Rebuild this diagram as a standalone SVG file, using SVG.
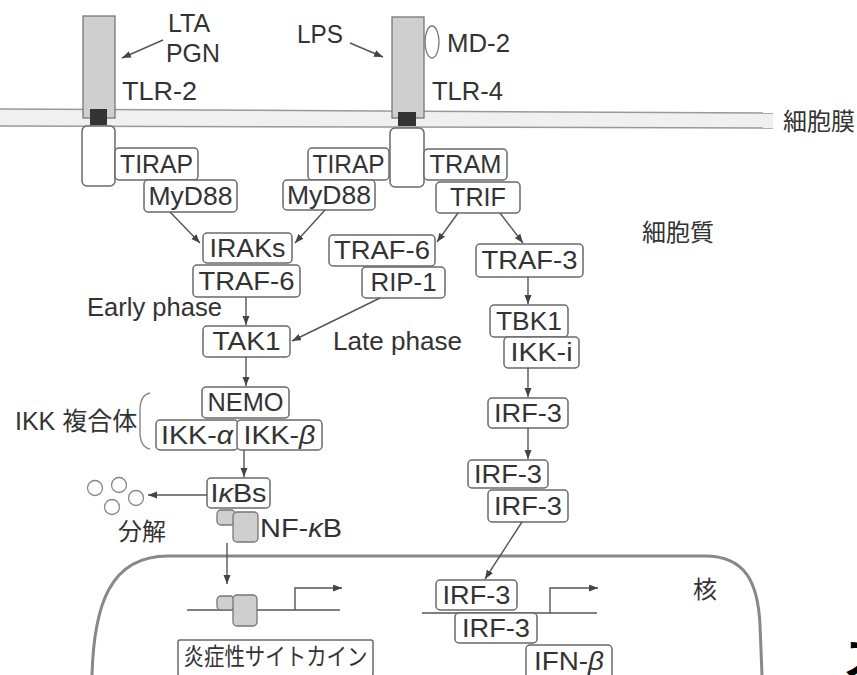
<svg xmlns="http://www.w3.org/2000/svg" width="857" height="675" viewBox="0 0 857 675">
<style>
.bx{fill:#fff;stroke:#6a6a6a;stroke-width:1.5}
.t{font-family:"Liberation Sans",Arial,sans-serif;font-size:25px;fill:#333}
.c{text-anchor:middle}
.j{font-family:"Noto Sans CJK JP",sans-serif;font-size:24px;fill:#333}
.ln{fill:none;stroke:#555;stroke-width:1.4}
.gr{fill:#cfcfcf;stroke:#777;stroke-width:1.3}
.i{font-style:italic}
</style>
<defs>
<marker id="ah" markerWidth="10" markerHeight="8" refX="9" refY="3.5" orient="auto" markerUnits="userSpaceOnUse">
<path d="M0,0 L9,3.5 L0,7 z" fill="#444"/>
</marker>
</defs>
<rect width="857" height="675" fill="#fff"/>

<g id="membrane">
<path d="M0,109 L773,113 L773,128 L0,126 z" fill="#f0f0f0"/>
<line x1="0" y1="109" x2="773" y2="113" stroke="#999" stroke-width="1.5"/>
<line x1="0" y1="126" x2="773" y2="128" stroke="#999" stroke-width="1.5"/>
<text class="j" x="783" y="130" font-size="25">細胞膜</text>
</g>

<g id="nucleus">
<path d="M92,675 C94,605 110,556 168,556 L705,556 C745,556 758,582 760,625 L762,675" fill="none" stroke="#888" stroke-width="3"/>
<text class="j" x="693" y="598" font-size="25">核</text>
</g>

<text class="j" x="642" y="241" font-size="25">細胞質</text>

<g id="tlr2">
<rect x="83" y="16" width="32" height="102" class="gr"/>
<rect x="82" y="126" width="33" height="60" rx="5" class="bx"/>
<rect x="90" y="109" width="17" height="16" fill="#333"/>
<text class="t" x="122" y="100" textLength="75" lengthAdjust="spacingAndGlyphs">TLR-2</text>
</g>
<g id="lta-pgn">
<text class="t" x="168" y="32">LTA</text>
<text class="t" x="166" y="62" textLength="54" lengthAdjust="spacingAndGlyphs">PGN</text>
</g>
<g id="tlr4">
<rect x="392" y="17" width="32" height="101" class="gr"/>
<rect x="390" y="128" width="34" height="59" rx="5" class="bx"/>
<rect x="398" y="112" width="18" height="14" fill="#333"/>
<text class="t" x="432" y="100" textLength="71" lengthAdjust="spacingAndGlyphs">TLR-4</text>
</g>
<g id="lps"><text class="t" x="297" y="43" textLength="46" lengthAdjust="spacingAndGlyphs">LPS</text></g>
<g id="md2">
<ellipse cx="432" cy="42" rx="7" ry="16" fill="#fff" stroke="#777" stroke-width="1.3"/>
<text class="t" x="447" y="52" textLength="63" lengthAdjust="spacingAndGlyphs">MD-2</text>
</g>

<g id="tirap-l"><rect class="bx" x="115" y="148" width="83" height="32" rx="4"/><text class="t c" x="156.5" y="173" textLength="73" lengthAdjust="spacingAndGlyphs">TIRAP</text></g>
<g id="myd88-l"><rect class="bx" x="144" y="180" width="93" height="32" rx="4"/><text class="t c" x="190.5" y="205" textLength="84" lengthAdjust="spacingAndGlyphs">MyD88</text></g>
<g id="tirap-m"><rect class="bx" x="308" y="148" width="81" height="32" rx="4"/><text class="t c" x="348.5" y="173" textLength="72" lengthAdjust="spacingAndGlyphs">TIRAP</text></g>
<g id="myd88-m"><rect class="bx" x="283" y="180" width="92" height="30" rx="4"/><text class="t c" x="329" y="204" textLength="84" lengthAdjust="spacingAndGlyphs">MyD88</text></g>
<g id="tram"><rect class="bx" x="424" y="149" width="83" height="31" rx="4"/><text class="t c" x="465.5" y="173" textLength="72" lengthAdjust="spacingAndGlyphs">TRAM</text></g>
<g id="trif"><rect class="bx" x="436" y="182" width="84" height="31" rx="4"/><text class="t c" x="478" y="206" textLength="56" lengthAdjust="spacingAndGlyphs">TRIF</text></g>
<g id="iraks"><rect class="bx" x="203" y="233" width="89" height="30" rx="4"/><text class="t c" x="247.5" y="257" textLength="76" lengthAdjust="spacingAndGlyphs">IRAKs</text></g>
<g id="traf6-l"><rect class="bx" x="193" y="265" width="107" height="32" rx="4"/><text class="t c" x="246.5" y="290" textLength="96" lengthAdjust="spacingAndGlyphs">TRAF-6</text></g>
<g id="traf6-m"><rect class="bx" x="329" y="235" width="106" height="31" rx="4"/><text class="t c" x="382" y="259" textLength="96" lengthAdjust="spacingAndGlyphs">TRAF-6</text></g>
<g id="rip1"><rect class="bx" x="362" y="267" width="83" height="31" rx="4"/><text class="t c" x="403.5" y="291" textLength="66" lengthAdjust="spacingAndGlyphs">RIP-1</text></g>
<g id="traf3"><rect class="bx" x="476" y="244" width="107" height="33" rx="4"/><text class="t c" x="529.5" y="269" textLength="96" lengthAdjust="spacingAndGlyphs">TRAF-3</text></g>
<g id="tak1"><rect class="bx" x="203" y="326" width="87" height="31" rx="4"/><text class="t c" x="246.5" y="350" textLength="68" lengthAdjust="spacingAndGlyphs">TAK1</text></g>
<g id="tbk1"><rect class="bx" x="490" y="305" width="78" height="32" rx="4"/><text class="t c" x="529" y="330" textLength="66" lengthAdjust="spacingAndGlyphs">TBK1</text></g>
<g id="ikki"><rect class="bx" x="504" y="337" width="75" height="31" rx="4"/><text class="t c" x="541.5" y="361" textLength="62" lengthAdjust="spacingAndGlyphs">IKK-i</text></g>
<g id="nemo"><rect class="bx" x="202" y="387" width="87" height="31" rx="4"/><text class="t c" x="245.5" y="411" textLength="76" lengthAdjust="spacingAndGlyphs">NEMO</text></g>
<g id="ikka"><rect class="bx" x="156" y="420" width="82" height="30" rx="4"/><text class="t c" x="197" y="444" textLength="72" lengthAdjust="spacingAndGlyphs">IKK-<tspan class="i">α</tspan></text></g>
<g id="ikkb"><rect class="bx" x="237" y="420" width="85" height="30" rx="4"/><text class="t c" x="279.5" y="444" textLength="72" lengthAdjust="spacingAndGlyphs">IKK-<tspan class="i">β</tspan></text></g>
<g id="ikk-complex">
<path d="M150,393 Q140,395 140,410 L140,432 Q140,447 150,449" fill="none" stroke="#888" stroke-width="1.4"/>
<text class="t" x="15" y="430" font-size="23">IKK <tspan font-family="Noto Sans CJK JP,sans-serif">複合体</tspan></text>
</g>
<g id="ikbs"><rect class="bx" x="207" y="478" width="63" height="30" rx="4"/><text class="t c" x="238.5" y="502" textLength="56" lengthAdjust="spacingAndGlyphs">I<tspan class="i">κ</tspan>Bs</text></g>
<g id="nfkb">
<rect x="217" y="510" width="18" height="15" rx="4" class="gr"/>
<rect x="233" y="512" width="25" height="30" rx="4" class="gr"/>
<text class="t" x="260" y="537" textLength="82" lengthAdjust="spacingAndGlyphs">NF-<tspan class="i">κ</tspan>B</text>
</g>
<g id="degradation">
<circle cx="95" cy="488" r="7.5" fill="#fff" stroke="#888" stroke-width="1.3"/>
<circle cx="119" cy="485" r="7.5" fill="#fff" stroke="#888" stroke-width="1.3"/>
<circle cx="136" cy="498" r="7.5" fill="#fff" stroke="#888" stroke-width="1.3"/>
<circle cx="112" cy="507" r="7.5" fill="#fff" stroke="#888" stroke-width="1.3"/>
<text class="j" x="118" y="540">分解</text>
</g>
<g id="irf3-a"><rect class="bx" x="488" y="398" width="80" height="30" rx="4"/><text class="t c" x="528" y="422" textLength="68" lengthAdjust="spacingAndGlyphs">IRF-3</text></g>
<g id="irf3-b"><rect class="bx" x="468" y="460" width="80" height="28" rx="4"/><text class="t c" x="508" y="483" textLength="68" lengthAdjust="spacingAndGlyphs">IRF-3</text></g>
<g id="irf3-c"><rect class="bx" x="488" y="490" width="80" height="32" rx="4"/><text class="t c" x="528" y="515" textLength="68" lengthAdjust="spacingAndGlyphs">IRF-3</text></g>

<g id="dna-left">
<line x1="187" y1="610" x2="340" y2="610" stroke="#555" stroke-width="1.4"/>
<rect x="217" y="596" width="17" height="14" rx="4" class="gr"/>
<rect x="233" y="595" width="24" height="31" rx="4" class="gr"/>
</g>
<g id="cytokine"><rect class="bx" x="178" y="640" width="195" height="36" rx="2"/><text class="j c" x="275.5" y="665" font-size="22" textLength="184" lengthAdjust="spacingAndGlyphs">炎症性サイトカイン</text></g>

<g id="dna-right">
<line x1="422" y1="613" x2="597" y2="613" stroke="#555" stroke-width="1.4"/>
</g>
<g id="irf3-d"><rect class="bx" x="436" y="580" width="81" height="30" rx="4"/><text class="t c" x="476.5" y="604" textLength="68" lengthAdjust="spacingAndGlyphs">IRF-3</text></g>
<g id="irf3-e"><rect class="bx" x="455" y="613" width="82" height="30" rx="4"/><text class="t c" x="496" y="637" textLength="68" lengthAdjust="spacingAndGlyphs">IRF-3</text></g>
<g id="ifnb"><rect class="bx" x="526" y="645" width="86" height="36" rx="4"/><text class="t c" x="569" y="670" textLength="70" lengthAdjust="spacingAndGlyphs">IFN-<tspan class="i">β</tspan></text></g>

<g id="labels">
<text class="t" x="87" y="316" textLength="135" lengthAdjust="spacingAndGlyphs">Early phase</text>
<text class="t" x="333" y="350" textLength="129" lengthAdjust="spacingAndGlyphs">Late phase</text>
<text x="843" y="675" font-family="Noto Sans CJK JP,sans-serif" font-size="44" font-weight="bold" fill="#000">ス</text>
</g>

<g id="connectors" class="ln">
<line x1="163" y1="40" x2="122" y2="58" marker-end="url(#ah)"/>
<line x1="350" y1="43" x2="383" y2="57" marker-end="url(#ah)"/>
<line x1="170" y1="212" x2="200" y2="243" marker-end="url(#ah)"/>
<line x1="325" y1="210" x2="295" y2="243" marker-end="url(#ah)"/>
<line x1="458" y1="213" x2="437" y2="242" marker-end="url(#ah)"/>
<line x1="500" y1="213" x2="523" y2="243" marker-end="url(#ah)"/>
<line x1="246" y1="297" x2="246" y2="325" marker-end="url(#ah)"/>
<line x1="380" y1="298" x2="292" y2="341" marker-end="url(#ah)"/>
<line x1="528" y1="277" x2="528" y2="304" marker-end="url(#ah)"/>
<line x1="246" y1="357" x2="246" y2="386" marker-end="url(#ah)"/>
<line x1="528" y1="368" x2="528" y2="397" marker-end="url(#ah)"/>
<line x1="244" y1="450" x2="244" y2="477" marker-end="url(#ah)"/>
<line x1="528" y1="428" x2="528" y2="459" marker-end="url(#ah)"/>
<line x1="207" y1="495" x2="148" y2="495" marker-end="url(#ah)"/>
<line x1="522" y1="522" x2="485" y2="579" marker-end="url(#ah)"/>
<line x1="227" y1="543" x2="227" y2="584" marker-end="url(#ah)"/>
<path d="M295,610 V588 H342" marker-end="url(#ah)"/>
<path d="M550,613 V588 H598" marker-end="url(#ah)"/>
</g>
</svg>
